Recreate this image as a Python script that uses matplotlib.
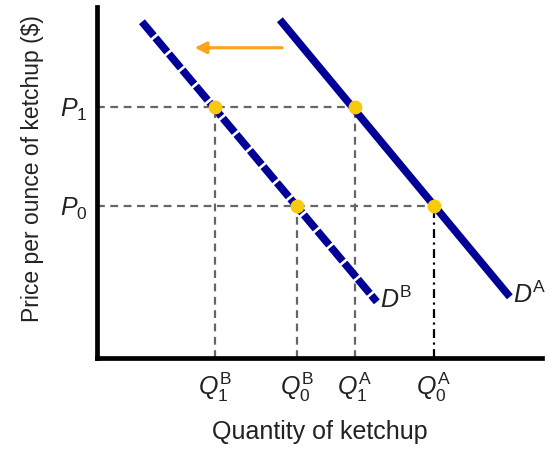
import matplotlib
matplotlib.use("Agg")
import matplotlib.pyplot as plt

# values (arbitrary units, axes start at 0)
price_labels = [r"$P_0$", r"$P_1$"]
prices = [15.2, 25.1]

q_labels = [r"$Q_1^{\mathrm{B}}$", r"$Q_0^{\mathrm{B}}$",
            r"$Q_1^{\mathrm{A}}$", r"$Q_0^{\mathrm{A}}$"]
q_values = [11.8, 20.0, 25.8, 33.7]

# equilibrium points on each demand curve (P0, P1)
qB = [20.0, 11.8]
qA = [33.7, 25.8]

# demand curve end points
dB_q = [4.5, 28.0]
dB_p = [33.6, 5.6]
dA_q = [18.3, 41.3]
dA_p = [33.8, 6.1]

# shift arrow
arrow_from = (18.8, 31.0)
arrow_to = (9.5, 31.0)

NAVY = "#000096"
GOLD = "#F7CB0A"
ORANGE = "#FFA31A"
GRID = "#666666"
TEXT = "#222222"

plt.rcParams["mathtext.fontset"] = "custom"
plt.rcParams["mathtext.rm"] = "Liberation Sans"
plt.rcParams["mathtext.it"] = "Liberation Sans:italic"
plt.rcParams["font.family"] = "Liberation Sans"


def main():
    fig = plt.figure(figsize=(5.54, 4.49), dpi=100)
    ax = fig.add_axes([0.175, 0.203, 0.803, 0.782])
    ax.set_xlim(0, 44.5)
    ax.set_ylim(0, 35.1)

    # guide lines
    dash = dict(color=GRID, lw=1.6, dashes=(3.5, 2.5))
    ax.plot([0, qA[1]], [prices[1]] * 2, **dash)
    ax.plot([0, qA[0]], [prices[0]] * 2, **dash)
    ax.plot([qB[1]] * 2, [0, prices[1]], **dash)
    ax.plot([qB[0]] * 2, [0, prices[0]], **dash)
    ax.plot([qA[1]] * 2, [0, prices[1]], **dash)
    ax.plot([qA[0]] * 2, [0, prices[0]], color="black", lw=1.6,
            dashes=(4, 2, 1, 2))

    # demand curves
    line_b, = ax.plot(dB_q, dB_p, color=NAVY, lw=5.5, solid_capstyle="butt")
    line_b.set_dashes((2.4, 0.35))
    ax.plot(dA_q, dA_p, color=NAVY, lw=5.5, solid_capstyle="butt")

    ax.plot(qB, prices, "o", color=GOLD, ms=9, zorder=5)
    ax.plot(qA, prices, "o", color=GOLD, ms=9, zorder=5)

    ax.annotate("", xy=arrow_to, xytext=arrow_from,
                arrowprops=dict(arrowstyle="-|>,head_length=0.7,head_width=0.35",
                                color=ORANGE, lw=2.2))

    ax.text(dB_q[1] + 0.3, dB_p[1] + 0.2, r"$\mathit{D}^{\mathrm{B}}$",
            fontsize=18, ha="left", va="center", color=TEXT)
    ax.text(dA_q[1] + 0.3, dA_p[1] + 0.2, r"$\mathit{D}^{\mathrm{A}}$",
            fontsize=18, ha="left", va="center", color=TEXT)

    ax.set_xticks(q_values)
    ax.set_xticklabels(q_labels, fontsize=18, color=TEXT)
    ax.set_yticks(prices)
    ax.set_yticklabels(price_labels, fontsize=18, color=TEXT)
    ax.tick_params(length=0)
    ax.tick_params(axis="x", pad=9)
    ax.tick_params(axis="y", pad=7)

    ax.set_xlabel("Quantity of ketchup", fontsize=18, labelpad=12, color=TEXT)
    ax.set_ylabel("Price per ounce of ketchup ($)", fontsize=16.5,
                  labelpad=11, y=0.54, color=TEXT)

    for side in ("top", "right"):
        ax.spines[side].set_visible(False)
    for side in ("left", "bottom"):
        ax.spines[side].set_linewidth(3.4)
        ax.spines[side].set_capstyle("projecting")

    fig.savefig("out.png", dpi=100)
    plt.close(fig)


if __name__ == "__main__":
    main()
